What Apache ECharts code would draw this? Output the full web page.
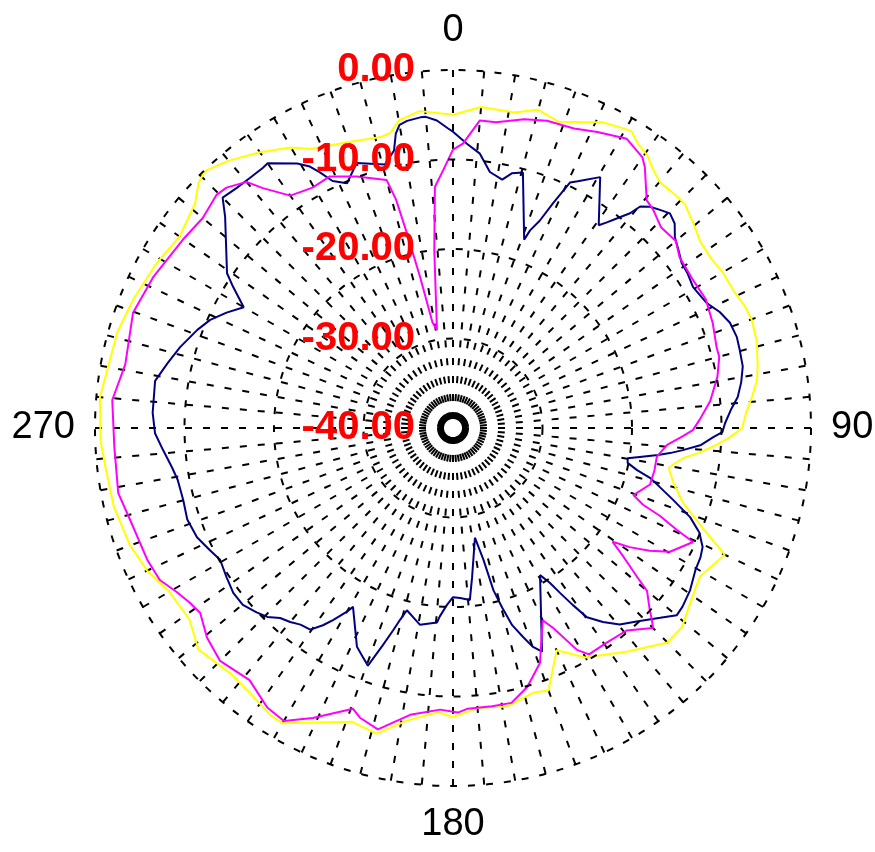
<!DOCTYPE html>
<html>
<head>
<meta charset="utf-8">
<script src="https://cdn.jsdelivr.net/npm/echarts@6/dist/echarts.min.js"></script>
<style>html,body{margin:0;padding:0;background:#fff;}#chart{width:875px;height:852px;}</style>
</head>
<body>
<div id="chart"></div>
<script>
// Angle labels shown (degrees)
var angleLabels = [0, 90, 180, 270];
// Radius ticks (dB)
var radiusTicks = [-40, -30, -20, -10, 0];

// Yellow trace
var yellowAngles = [0,5,11,15,19,22.5,26,29.5,31,33,35.5,37.5,40,44,46,49.5,53,56.5,60,64,67,70,74,78,81,84,87,90,92,94,96,97.5,99.5,100.5,104,108,112,115,118,121,125,131,135,142,150,155,160,163,169,175,180,183,189,194,197,199,210,212.5,217.5,222,229,234,240,245,250,257,264,268,275,286,292,299,305,311,314,316,320,325,330,333,340,346,348,350,354,360];
var yellowValues = [-5.0,-4.0,-4.1,-3.2,-3.8,-3.0,-2.0,-1.5,-1.3,-2.1,-2.6,-3.4,-4.1,-4.0,-4.0,-4.7,-5.4,-5.5,-5.2,-5.1,-4.7,-4.5,-4.7,-5.2,-5.6,-6.4,-7.2,-7.7,-9.1,-10.8,-12.6,-14.1,-15.1,-15.5,-14.6,-13.0,-9.8,-6.5,-7.2,-7.8,-7.3,-6.1,-6.1,-8.3,-10.4,-12.6,-8.8,-9.1,-8.3,-8.6,-7.7,-8.2,-6.9,-4.8,-5.1,-5.3,-1.9,-2.0,-2.7,-3.0,-2.3,-3.6,-3.4,-2.3,-1.6,-1.1,-0.9,-0.6,-0.4,-1.0,-1.5,-2.1,-2.7,-1.8,-0.5,-0.1,-1.0,-2.4,-3.8,-5.0,-6.0,-6.5,-6.3,-5.1,-4.4,-5.0];

// Magenta trace
var magentaAngles = [0,2,5,8,13,17,22,26,29,31,35,36.3,40.4,42.5,46,50,53,58,63,68,73,75,79,84,88,90.5,92,94.5,98,102,106,110.4,112,113,114.5,115.4,119.7,122,124,125.5,127,129,130,132.7,134,135,139.4,144.4,149,150.8,153.4,155,159.7,164,168,172,177,179,182.6,188.5,194,197.8,199.6,205.8,210,213.6,218.9,225,229.6,233.8,236.4,239.3,242.6,246.7,254,259,266.8,274.7,281,289.8,296.7,304.8,310,314.6,316.7,320,321.6,325,329.7,333.9,339,345,346,346.7,347.7,349,350.7,354,355.7,357.8,360];
var magentaValues = [-8.9,-8.2,-5.5,-5.5,-4.6,-4.1,-3.9,-3.2,-2.7,-2.3,-3.1,-3.8,-6.6,-6.9,-7.7,-7.5,-8.3,-8.5,-8.3,-8.7,-9.2,-9.2,-9.9,-11.1,-12.4,-13.2,-14.3,-16.0,-17.0,-17.0,-17.1,-18.5,-17.1,-14.9,-12.5,-10.3,-12.1,-14.1,-16.2,-18.1,-16.2,-13.5,-11.7,-10.1,-9.1,-8.4,-10.2,-10.5,-10.5,-11.6,-15.0,-16.3,-12.0,-9.9,-8.6,-8.6,-8.6,-8.2,-8.5,-7.6,-5.3,-6.0,-6.7,-4.0,-2.2,-2.5,-3.8,-3.2,-3.9,-5.0,-4.7,-4.1,-3.1,-2.8,-2.5,-1.9,-2.1,-1.8,-2.7,-2.0,-2.5,-3.2,-3.5,-2.9,-3.1,-4.1,-5.8,-8.3,-8.9,-8.7,-9.9,-11.3,-13.7,-17.7,-22.7,-28.0,-28.9,-20.0,-13.0,-11.2,-8.9];

// Navy trace
var navyAngles = [0,0.8,2.8,5.6,8.2,11.2,13,15.3,20.7,21.3,22.7,24,25.5,26.8,30.4,35.7,36.8,38,39.5,40.2,41.7,43.5,45.3,47.3,49.3,51.7,54.2,56.5,59.6,63.8,66.5,69.2,72.2,74.8,78,81,83.8,86.3,89,90.9,92,94,95.5,96.6,97.5,98.8,99.8,101.3,102.9,104.2,105.9,108,110.6,113,115.5,117.6,120.4,124.4,127.9,129.9,132.5,136.5,139.7,142.3,144.7,145.9,147,148,149.4,158.3,160,161.5,163.3,164.7,166,167,168.7,172.7,174.4,177.6,180,182,184,184.7,189.5,190.5,194.2,195.4,196.5,197.9,199.7,201.5,203.7,209.2,210,212,213.4,215.3,217.8,220,222.3,224.5,226.8,229.9,233.1,236.6,240.5,243.3,246.9,251,255,259.3,262,265.7,269,272.9,279,282.8,286.5,291,294,297,300,302.7,304.4,312.8,315,318,320.9,323.8,325,329.5,331.3,332.5,334,336.6,340,345.5,348,349,350,351.5,354,355,357,359,360];
var navyValues = [-6.9,-7.3,-8.2,-9.2,-11.1,-11.7,-10.8,-10.4,-17.5,-16.3,-14.9,-12.5,-9.6,-9.1,-7.5,-12.1,-11.3,-10.3,-8.9,-7.6,-6.9,-6.4,-5.9,-6.3,-7.3,-7.9,-8.5,-8.6,-8.9,-8.4,-7.5,-6.9,-6.7,-6.8,-6.9,-7.4,-8.0,-8.9,-9.6,-9.9,-10.9,-12.3,-14.2,-15.6,-16.9,-18.9,-20.2,-20.1,-18.9,-17.3,-16.0,-14.2,-11.7,-10.1,-9.1,-8.8,-8.6,-7.9,-7.5,-7.4,-8.6,-10.2,-11.2,-12.6,-14.1,-16.1,-18.0,-19.6,-20.9,-13.1,-14.0,-15.4,-17.0,-19.2,-21.3,-24.9,-27.5,-23.2,-20.7,-21.0,-21.1,-20.2,-18.9,-18.2,-17.7,-18.0,-19.0,-17.8,-16.4,-14.5,-11.8,-12.5,-13.3,-17.1,-16.3,-14.7,-13.6,-12.4,-12.2,-11.7,-11.3,-10.4,-9.9,-9.3,-9.3,-9.7,-10.1,-9.6,-8.9,-8.6,-8.8,-8.7,-8.3,-7.5,-6.7,-6.4,-6.3,-7.3,-8.2,-9.4,-10.3,-11.6,-13.0,-10.8,-9.4,-5.3,-3.6,-3.9,-4.0,-4.0,-3.9,-5.7,-6.7,-7.8,-9.3,-10.2,-8.5,-9.6,-8.3,-6.5,-5.6,-5.3,-5.1,-5.1,-5.6,-6.5,-6.9];

function pairs(angles, values) {
  var out = [];
  var n = Math.min(angles.length, values.length);
  for (var i = 0; i < n; i++) out.push([values[i], angles[i]]);
  return out;
}

var chart = echarts.init(document.getElementById('chart'));
var dash = [7, 11];
chart.setOption({
  backgroundColor: '#ffffff',
  animation: false,
  polar: { center: [453, 428], radius: 358 },
  angleAxis: {
    type: 'value', min: 0, max: 360, interval: 5,
    startAngle: 90, clockwise: true,
    axisLine: { show: false },
    axisTick: { show: false },
    axisLabel: {
      margin: 20,
      fontSize: 38,
      color: '#000',
      fontFamily: 'Liberation Sans, Arial, sans-serif',
      formatter: function (v) { return angleLabels.indexOf(v) >= 0 ? String(v) : ''; }
    },
    splitLine: { show: true, lineStyle: { color: '#000', width: 2, type: dash } }
  },
  radiusAxis: {
    type: 'value', min: radiusTicks[0], max: radiusTicks[radiusTicks.length - 1], interval: 10,
    z: 10,
    axisLine: { show: false },
    axisTick: { show: false },
    axisLabel: {
      margin: 38,
      fontSize: 40,
      fontWeight: 'bold',
      color: '#ff0000',
      fontFamily: 'Liberation Sans, Arial, sans-serif',
      formatter: function (v) { return v.toFixed(2); }
    },
    splitLine: { show: true, lineStyle: { color: '#000', width: 2, type: dash } }
  },
  series: [
    { type: 'line', coordinateSystem: 'polar', symbol: 'none', z: 3,
      lineStyle: { color: '#000080', width: 2 }, data: pairs(navyAngles, navyValues) },
    { type: 'line', coordinateSystem: 'polar', symbol: 'none', z: 4,
      lineStyle: { color: '#ffff00', width: 2 }, data: pairs(yellowAngles, yellowValues) },
    { type: 'line', coordinateSystem: 'polar', symbol: 'none', z: 5,
      lineStyle: { color: '#ff00ff', width: 2 }, data: pairs(magentaAngles, magentaValues) }
  ]
});
</script>
</body>
</html>
